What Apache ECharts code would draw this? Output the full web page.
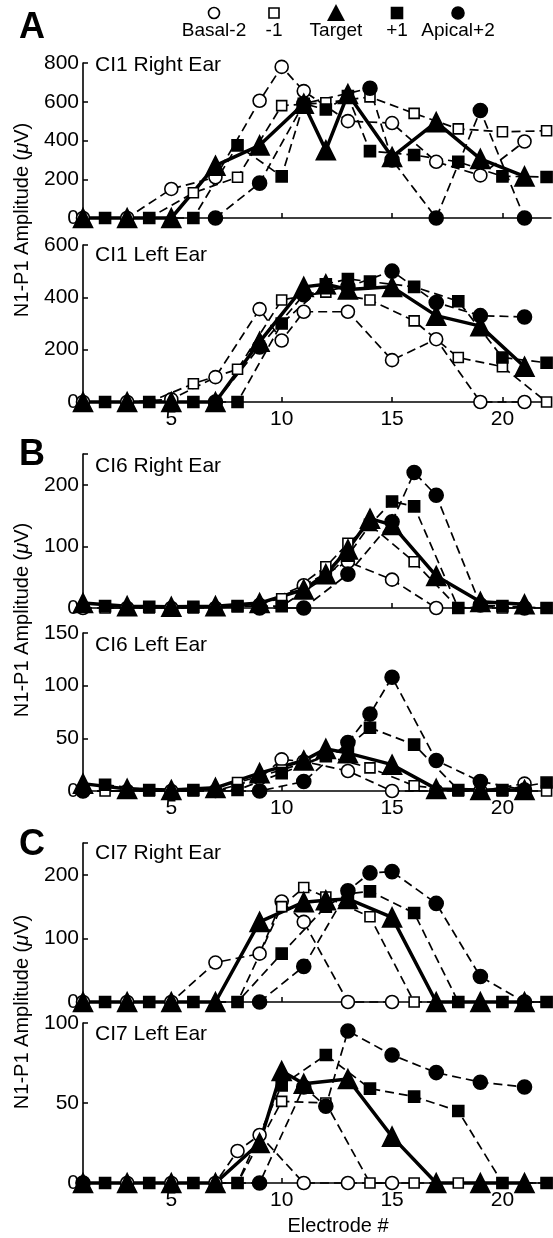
<!DOCTYPE html>
<html>
<head>
<meta charset="utf-8">
<script src="https://cdn.jsdelivr.net/npm/echarts@6/dist/echarts.min.js"></script>
<style>
html, body { margin: 0; padding: 0; background: #fff; }
#chart { width: 553px; height: 1238px; }
</style>
</head>
<body>
<div id="chart"></div>
<script>
var _ = null;
var FONT = 'Liberation Sans, Arial, sans-serif';

// electrode numbers 1..22
var electrodes = [1, 2, 3, 4, 5, 6, 7, 8, 9, 10, 11, 12, 13, 14, 15, 16, 17, 18, 19, 20, 21, 22];
var xTicks = [5, 10, 15, 20];
var seriesNames = ['Basal-2', '-1', 'Target', '+1', 'Apical+2'];

// CI1 right ear
var ci1R_basal  = [0, _, 0, _, 150, _, 210, _, 605, 780, 655, _, 500, _, 490, _, 290, _, 220, _, 395, _];
var ci1R_minus1 = [_, 0, _, 0, _, 130, _, 210, _, 580, _, 595, _, 625, _, 540, _, 460, _, 445, _, 450];
var ci1R_target = [0, _, 0, _, 0, _, 270, _, 375, _, 590, 350, 640, _, 315, _, 495, _, 305, _, 215, _];
var ci1R_plus1  = [_, 0, _, 0, _, 0, _, 375, _, 215, 590, 560, 630, 345, _, 325, _, 290, _, 215, _, 212];
var ci1R_apical = [_, _, _, _, _, _, 0, _, 180, _, 590, _, _, 670, 300, _, 0, _, 555, _, 0, _];

// CI1 left ear
var ci1L_basal  = [0, _, 0, _, 10, _, 95, _, 355, 235, 345, _, 345, _, 160, _, 240, _, 0, _, 0, _];
var ci1L_minus1 = [_, 0, _, 0, _, 70, _, 125, _, 390, _, 420, _, 390, _, 310, _, 170, _, 135, _, 0];
var ci1L_target = [0, _, 0, _, 0, _, 0, _, 230, _, 440, 450, 430, _, 440, _, 330, _, 290, _, 135, _];
var ci1L_plus1  = [_, 0, _, 0, _, 0, _, 0, _, 300, _, 450, 470, 460, _, 440, _, 385, _, 170, _, 150];
var ci1L_apical = [_, _, _, _, _, _, 0, _, 210, _, 410, _, 440, _, 500, _, 380, _, 330, _, 325, _];

// CI6 right ear
var ci6R_basal  = [0, _, 0, _, 0, _, 0, _, 5, _, 37, _, 75, _, 46, _, 0, _, _, _, _, _];
var ci6R_minus1 = [_, 0, _, 0, _, 0, _, 2, _, 15, _, 67, 105, 135, _, 75, _, 0, _, 0, _, 0];
var ci6R_target = [8, _, 3, _, 2, _, 3, _, 8, _, 30, 55, 95, 145, 135, _, 52, _, 10, _, 6, _];
var ci6R_plus1  = [_, 3, _, 2, _, 2, _, 3, _, 3, _, 50, 85, 135, 173, 165, _, 0, _, 3, _, 0];
var ci6R_apical = [_, _, _, _, _, _, _, _, 0, _, 0, _, 55, _, 140, 220, 183, _, 5, _, 0, _];

// CI6 left ear
var ci6L_basal  = [0, _, 0, _, 0, _, 0, _, 12, 30, 28, _, 19, _, 0, _, 0, _, 0, _, 7, _];
var ci6L_minus1 = [_, 0, _, 0, _, 0, _, 8, _, 20, _, 33, _, 22, _, 5, _, 0, _, 0, _, 0];
var ci6L_target = [7, _, 2, _, 1, _, 3, _, 17, _, 29, 40, 36, _, 25, _, 2, _, 1, _, 1, _];
var ci6L_plus1  = [_, 6, _, 1, _, 1, _, 1, _, 17, _, 33, 42, 60, _, 44, _, 1, _, 1, _, 8];
var ci6L_apical = [0, _, _, _, _, _, _, _, 0, _, 9, _, 46, 73, 108, _, 29, _, 9, _, 1, _];

// CI7 right ear
var ci7R_basal  = [0, _, 0, _, 0, _, 62, _, 76, 158, 126, _, 0, _, 0, _, _, _, _, _, _, _];
var ci7R_minus1 = [_, 0, _, 0, _, 0, _, 0, _, 150, 180, 165, _, 134, _, 0, _, 0, _, 0, _, 0];
var ci7R_target = [0, _, 0, _, 0, _, 0, _, 126, _, 157, 160, 162, _, 133, _, 0, _, 0, _, 0, _];
var ci7R_plus1  = [_, 0, _, 0, _, 0, _, 0, _, 76, _, 150, 170, 174, _, 140, _, 0, _, 0, _, 0];
var ci7R_apical = [_, _, _, _, _, _, _, _, 0, _, 56, _, 175, 203, 205, _, 155, _, 40, _, 0, _];

// CI7 left ear
var ci7L_basal  = [0, _, 0, _, 0, _, 0, 20, 30, _, 0, _, 0, _, 0, _, _, _, _, _, _, _];
var ci7L_minus1 = [_, 0, _, 0, _, 0, _, 0, _, 51, _, 50, _, 0, _, 0, _, 0, _, 0, _, 0];
var ci7L_target = [0, _, 0, _, 0, _, 0, _, 25, 70, 62, _, 65, _, 29, _, 0, _, 0, _, 0, _];
var ci7L_plus1  = [_, 0, _, 0, _, 0, _, 0, _, 61, _, 80, _, 59, _, 54, _, 45, _, 0, _, 0];
var ci7L_apical = [0, _, _, _, _, _, _, _, 0, _, 60, 48, 95, _, 80, _, 69, _, 63, _, 60, _];

var panels = [
    {title: 'CI1 Right Ear', top: 63, height: 155, max: 800, ticks: [0, 200, 400, 600, 800], xLabels: false, titleY: 65,
     data: [ci1R_basal, ci1R_minus1, ci1R_target, ci1R_plus1, ci1R_apical]},
    {title: 'CI1 Left Ear', top: 245, height: 157, max: 600, ticks: [0, 200, 400, 600], xLabels: true, titleY: 255,
     data: [ci1L_basal, ci1L_minus1, ci1L_target, ci1L_plus1, ci1L_apical]},
    {title: 'CI6 Right Ear', top: 454, height: 154, max: 250, ticks: [0, 100, 200], xLabels: false, titleY: 466,
     data: [ci6R_basal, ci6R_minus1, ci6R_target, ci6R_plus1, ci6R_apical]},
    {title: 'CI6 Left Ear', top: 633, height: 158, max: 150, ticks: [0, 50, 100, 150], xLabels: true, titleY: 645,
     data: [ci6L_basal, ci6L_minus1, ci6L_target, ci6L_plus1, ci6L_apical]},
    {title: 'CI7 Right Ear', top: 843, height: 159, max: 250, ticks: [0, 100, 200], xLabels: false, titleY: 853,
     data: [ci7R_basal, ci7R_minus1, ci7R_target, ci7R_plus1, ci7R_apical]},
    {title: 'CI7 Left Ear', top: 1023, height: 160, max: 100, ticks: [0, 50, 100], xLabels: true, titleY: 1034,
     data: [ci7L_basal, ci7L_minus1, ci7L_target, ci7L_plus1, ci7L_apical]}
];

// marker / line look for each series (same order as seriesNames)
var looks = [
    {symbol: 'circle', size: 13, fill: '#fff', width: 1.7, dash: [9, 5]},
    {symbol: 'rect', size: 10, fill: '#fff', width: 1.7, dash: [9, 5]},
    {symbol: 'triangle', size: 19, fill: '#000', width: 3.5, dash: 'solid'},
    {symbol: 'rect', size: 11, fill: '#000', width: 1.7, dash: [9, 5]},
    {symbol: 'circle', size: 14, fill: '#000', width: 1.7, dash: [9, 5]}
];
var drawOrder = [0, 1, 3, 4, 2];

function pairs(values) {
    var out = [];
    for (var i = 0; i < electrodes.length; i++) {
        if (values[i] !== null) out.push([electrodes[i], values[i]]);
    }
    return out;
}

var grids = [], xAxes = [], yAxes = [], series = [], graphics = [];

panels.forEach(function (p, i) {
    grids.push({left: 83, right: 2, top: p.top, height: p.height});
    xAxes.push({
        gridIndex: i, type: 'value', min: 1, max: 22.2,
        axisLine: {onZero: false, lineStyle: {color: '#000', width: 1.6}},
        axisTick: {inside: true, length: 5, customValues: xTicks, lineStyle: {color: '#000', width: 1.5}},
        axisLabel: {show: p.xLabels, customValues: xTicks, color: '#000', fontSize: 21, fontFamily: FONT, margin: 7},
        splitLine: {show: false}
    });
    yAxes.push({
        gridIndex: i, type: 'value', min: 0, max: p.max,
        axisLine: {show: true, lineStyle: {color: '#000', width: 1.6}},
        axisTick: {show: true, inside: true, length: 5, customValues: p.ticks.concat([p.max]), lineStyle: {color: '#000', width: 1.5}},
        axisLabel: {customValues: p.ticks, color: '#000', fontSize: 21, fontFamily: FONT, margin: 4},
        splitLine: {show: false}
    });
    drawOrder.forEach(function (k) {
        var lk = looks[k];
        series.push({
            name: seriesNames[k], type: 'line', xAxisIndex: i, yAxisIndex: i,
            data: pairs(p.data[k]),
            symbol: lk.symbol, symbolSize: lk.size, showAllSymbol: true, clip: false,
            itemStyle: {color: lk.fill, borderColor: '#000', borderWidth: 1.6},
            lineStyle: {color: '#000', width: lk.width, type: lk.dash},
            emphasis: {disabled: true}, animation: false
        });
    });
    graphics.push({
        type: 'text', x: 95, y: p.titleY,
        style: {text: p.title, font: '21px ' + FONT, fill: '#000', textVerticalAlign: 'middle', verticalAlign: 'middle'}
    });
});

// legend drawn as marker above label
var legendX = [214, 274, 336, 397, 458];
legendX.forEach(function (x, k) {
    var lk = looks[k];
    if (lk.symbol === 'circle') {
        graphics.push({type: 'circle', shape: {cx: x, cy: 13, r: lk.size / 2 - 1},
            style: {fill: lk.fill, stroke: '#000', lineWidth: 1.6}});
    } else if (lk.symbol === 'rect') {
        graphics.push({type: 'rect', shape: {x: x - lk.size / 2, y: 13 - lk.size / 2, width: lk.size, height: lk.size},
            style: {fill: lk.fill, stroke: '#000', lineWidth: 1.6}});
    } else {
        graphics.push({type: 'polygon', shape: {points: [[x, 4], [x - 9, 21], [x + 9, 21]]},
            style: {fill: '#000'}});
    }
    graphics.push({type: 'text', x: x, y: 31,
        style: {text: seriesNames[k], font: '19px ' + FONT, fill: '#000',
            textAlign: 'center', align: 'center', textVerticalAlign: 'middle', verticalAlign: 'middle'}});
});

// panel letters
[['A', 28], ['B', 455], ['C', 845]].forEach(function (l) {
    graphics.push({type: 'text', x: 32, y: l[1],
        style: {text: l[0], font: 'bold 36px ' + FONT, fill: '#000',
            textAlign: 'center', align: 'center', textVerticalAlign: 'middle', verticalAlign: 'middle'}});
});

// y axis names
[220, 620, 1012].forEach(function (y) {
    graphics.push({type: 'text', x: 22, y: y, rotation: Math.PI / 2,
        style: {text: '{n|N1-P1 Amplitude (}{i|\u03bc}{n|V)}', fill: '#000',
            textAlign: 'center', align: 'center', textVerticalAlign: 'middle', verticalAlign: 'middle',
            rich: {n: {fontSize: 20, fontFamily: FONT}, i: {fontSize: 20, fontFamily: FONT, fontStyle: 'italic'}}}});
});

graphics.push({type: 'text', x: 338, y: 1226,
    style: {text: 'Electrode #', font: '20px ' + FONT, fill: '#000',
        textAlign: 'center', align: 'center', textVerticalAlign: 'middle', verticalAlign: 'middle'}});

var myChart = echarts.init(document.getElementById('chart'));
myChart.setOption({
    animation: false,
    backgroundColor: '#fff',
    grid: grids,
    xAxis: xAxes,
    yAxis: yAxes,
    series: series,
    graphic: graphics
});
</script>
</body>
</html>
